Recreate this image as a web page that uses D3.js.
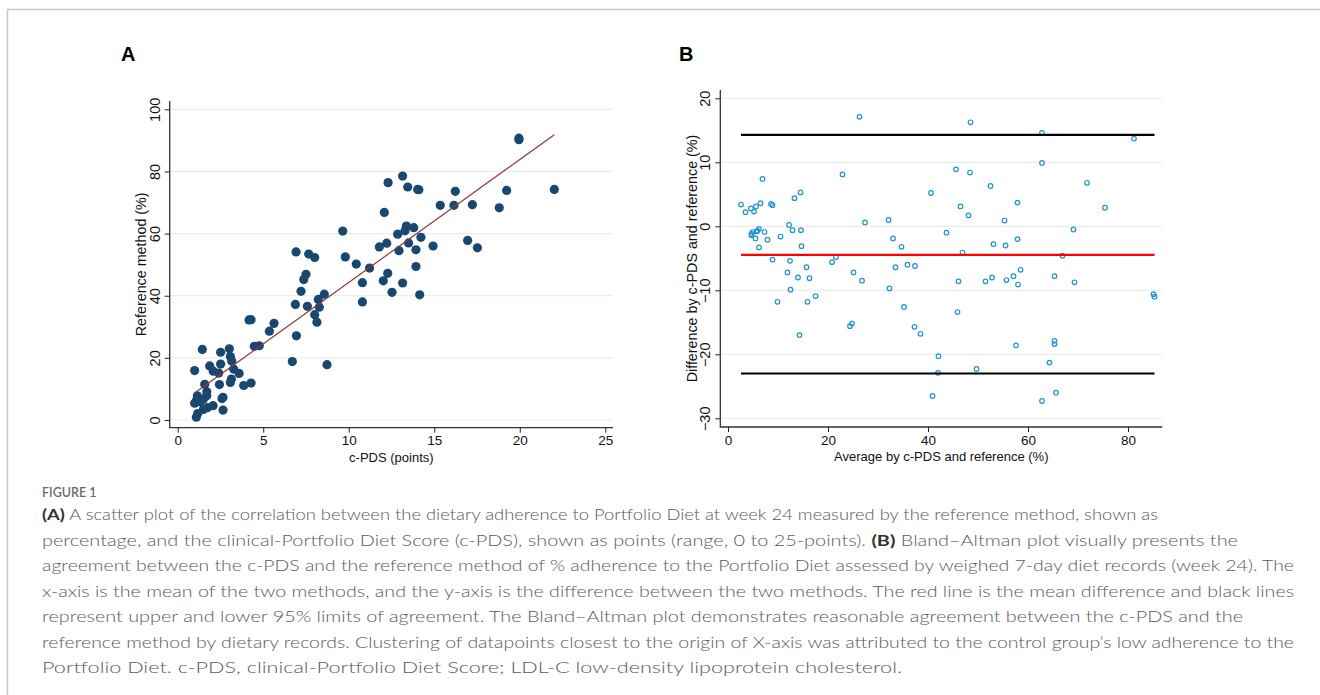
<!DOCTYPE html>
<html lang="en">
  <head>
    <meta charset="UTF-8" />
    <title>Figure 1 - c-PDS vs reference method</title>
    <script src="https://cdn.jsdelivr.net/npm/d3@7"></script>
    <style>
      body { margin: 0; background: #fff; }
      .tick text { font-family: "Liberation Sans", Arial, sans-serif; }
    </style>
  </head>
  <body>
    <svg id="fig" width="1320" height="695"></svg>
    <script>
      // Panel A: c-PDS (points) vs reference method (%)
      const cpds = [19.95, 19.95, 22.02, 19.23, 18.8, 17.23, 16.95, 17.52, 16.23, 16.15,
        15.35, 14.93, 13.15, 12.3, 13.45, 14.03, 14.1, 12.08, 13.37, 13.29,
        13.8, 12.86, 14.22, 12.22, 11.79, 13.5, 12.94, 13.93, 13.93, 12.28,
        12.02, 13.15, 12.53, 14.15, 11.22, 10.44, 10.8, 10.8, 9.65, 9.8,
        6.92, 7.66, 8.01, 7.5, 7.37, 7.21, 6.88, 7.58, 8.22, 8.57,
        8.28, 8.01, 8.14, 6.94, 6.7, 8.73, 5.63, 5.36, 4.17, 4.29,
        4.48, 4.77, 4.29, 3.86, 3.59, 3.27, 3.02, 3.08, 3.16, 3.14,
        3.08, 2.51, 2.51, 2.4, 2.44, 2.59, 2.65, 2.65, 1.87, 2.08,
        1.44, 1.58, 0.99, 1.7, 1.7, 1.15, 1.11, 0.99, 1.31, 1.5,
        2.07, 1.75, 1.5, 1.17, 1.09];
      const refPct = [90.7, 90.2, 74.2, 73.9, 68.3, 69.3, 57.8, 55.4, 73.6, 69.1,
        69.1, 56.0, 78.5, 76.4, 75.0, 74.2, 74.1, 66.8, 62.4, 60.9,
        61.9, 59.8, 58.8, 56.9, 55.7, 57.0, 54.5, 54.8, 49.4, 47.2,
        44.8, 44.1, 41.1, 40.3, 48.9, 50.2, 44.2, 38.0, 60.8, 52.5,
        54.1, 53.4, 52.3, 46.9, 45.2, 41.4, 37.2, 36.6, 38.8, 40.5,
        36.3, 33.9, 31.5, 27.1, 18.8, 17.8, 31.1, 28.6, 32.2, 32.3,
        23.7, 23.9, 11.9, 11.1, 15.0, 16.4, 22.9, 20.4, 19.0, 13.2,
        12.1, 21.8, 18.0, 15.1, 11.4, 6.9, 7.3, 3.2, 17.4, 15.7,
        22.7, 11.5, 15.9, 9.1, 7.8, 7.8, 6.4, 5.4, 5.9, 6.7,
        4.6, 4.0, 3.4, 2.1, 0.9];
      // fitted line end points
      const fitX = [1.05, 22.02];
      const fitY = [8.9, 91.8];
      const xTicksA = [0, 5, 10, 15, 20, 25];
      const yTicksA = [0, 20, 40, 60, 80, 100];

      // Panel B: Bland-Altman
      const baAvg = [26.3, 48.5, 62.8, 81.2, 62.8, 45.6, 48.4, 22.9, 6.9, 71.8,
        52.5, 40.6, 14.5, 13.3, 57.9, 6.5, 2.6, 8.6, 8.9, 46.5,
        5.6, 4.6, 75.4, 3.5, 5.2, 48.1, 55.3, 32.1, 27.4, 12.2,
        12.9, 14.6, 6.2, 5.9, 5.7, 7.3, 4.9, 4.7, 4.7, 69.1,
        43.7, 10.5, 5.5, 7.9, 33.0, 57.9, 53.1, 55.5, 34.7, 14.7,
        6.2, 46.9, 66.9, 21.6, 8.9, 12.4, 20.8, 35.9, 37.4, 33.5,
        15.7, 58.5, 11.9, 25.1, 57.1, 65.3, 52.8, 14.0, 16.3, 55.7,
        26.8, 46.1, 51.5, 69.3, 58.0, 32.3, 12.5, 85.1, 85.3, 17.5,
        9.9, 15.9, 35.2, 45.9, 24.8, 24.4, 37.3, 38.5, 14.3, 65.3,
        65.3, 57.6, 42.1, 64.3, 49.7, 42.0, 40.9, 65.6, 62.8];
      const baDiff = [17.1, 16.25, 14.6, 13.7, 9.9, 8.9, 8.4, 8.1, 7.4, 6.8,
        6.3, 5.2, 5.3, 4.4, 3.7, 3.6, 3.4, 3.5, 3.3, 3.1,
        3.1, 2.8, 2.9, 2.2, 2.3, 1.7, 0.9, 1.0, 0.6, 0.2,
        -0.6, -0.6, -0.4, -0.7, -0.8, -0.9, -0.9, -1.2, -1.4, -0.5,
        -1.0, -1.6, -1.9, -2.1, -1.9, -2.0, -2.8, -3.0, -3.2, -3.1,
        -3.3, -4.1, -4.6, -4.8, -5.2, -5.4, -5.6, -6.0, -6.2, -6.4,
        -6.4, -6.8, -7.2, -7.2, -7.8, -7.8, -8.0, -8.0, -8.1, -8.4,
        -8.5, -8.6, -8.6, -8.75, -9.1, -9.7, -9.9, -10.6, -11.0, -10.9,
        -11.8, -11.8, -12.6, -13.4, -15.2, -15.6, -15.7, -16.8, -17.0, -17.9,
        -18.4, -18.6, -20.3, -21.3, -22.3, -22.9, -26.5, -26.0, -27.3];
      const meanDiff = -4.48;
      const loaUpper = 14.27;
      const loaLower = -23.0;
      const baLineX = [2.6, 85.3];
      const xTicksB = [0, 20, 40, 60, 80];
      const yTicksB = [-30, -20, -10, 0, 10, 20];

      const captionLines = [
        [["(A)", true], [" A scatter plot of the correlation between the dietary adherence to Portfolio Diet at week 24 measured by the reference method, shown as", false]],
        [["percentage, and the clinical-Portfolio Diet Score (c-PDS), shown as points (range, 0 to 25-points). ", false], ["(B)", true], [" Bland\u2013Altman plot visually presents the", false]],
        [["agreement between the c-PDS and the reference method of % adherence to the Portfolio Diet assessed by weighed 7-day diet records (week 24). The", false]],
        [["x-axis is the mean of the two methods, and the y-axis is the difference between the two methods. The red line is the mean difference and black lines", false]],
        [["represent upper and lower 95% limits of agreement. The Bland\u2013Altman plot demonstrates reasonable agreement between the c-PDS and the", false]],
        [["reference method by dietary records. Clustering of datapoints closest to the origin of X-axis was attributed to the control group\u2019s low adherence to the", false]],
        [["Portfolio Diet. c-PDS, clinical-Portfolio Diet Score; LDL-C low-density lipoprotein cholesterol.", false]]
      ];
      const captionWidths = [1116, 1196, 1252, 1252, 1201, 1252, 860];

      const svg = d3.select("#fig");
      const chartFont = "'Liberation Sans', Arial, sans-serif";
      const gridColor = "#e6eff0";

      svg.append("rect").attr("width", 1320).attr("height", 695).attr("fill", "#fff");

      // thin frame around the figure
      svg.append("path")
        .attr("d", "M7.5,695 V9.5 H1320")
        .attr("fill", "none")
        .attr("stroke", "#c8c8c8")
        .attr("stroke-width", 1.5);

      // helper to draw a stata-like panel frame (axes + grid)
      function drawPanel(cfg) {
        const g = svg.append("g");
        const [x0, x1] = cfg.plotX;
        const [y0, y1] = cfg.plotY;

        // gridlines
        g.selectAll(".grid")
          .data(cfg.yTicks)
          .enter()
          .append("line")
          .attr("x1", x0)
          .attr("x2", x1)
          .attr("y1", (d) => cfg.y(d))
          .attr("y2", (d) => cfg.y(d))
          .attr("stroke", gridColor)
          .attr("stroke-width", 1.2);

        // y axis
        const yAxis = g.append("g")
          .attr("transform", `translate(${x0},0)`)
          .call(d3.axisLeft(cfg.y).tickValues(cfg.yTicks).tickSize(5).tickSizeOuter(0));
        yAxis.select(".domain").remove();
        yAxis.selectAll(".tick line").attr("stroke", "#222");
        yAxis.selectAll(".tick text")
          .attr("x", null)
          .attr("dy", null)
          .attr("transform", "translate(-10,0) rotate(-90)")
          .attr("text-anchor", "middle")
          .attr("font-size", 14.5)
          .attr("fill", "#111");

        // x axis
        const xAxis = g.append("g")
          .attr("transform", `translate(0,${y1})`)
          .call(d3.axisBottom(cfg.x).tickValues(cfg.xTicks).tickSize(5).tickSizeOuter(0));
        xAxis.select(".domain").remove();
        xAxis.selectAll(".tick line").attr("stroke", "#222");
        xAxis.selectAll(".tick text")
          .attr("y", 8)
          .attr("font-size", 13.5)
          .attr("fill", "#111");

        // axis lines
        g.append("path")
          .attr("d", `M${x0},${y0} V${y1} H${x1}`)
          .attr("fill", "none")
          .attr("stroke", "#333")
          .attr("stroke-width", 1.3);

        // titles
        g.append("text")
          .attr("x", (x0 + x1) / 2)
          .attr("y", y1 + 34)
          .attr("text-anchor", "middle")
          .attr("font-family", chartFont)
          .attr("font-size", 13)
          .attr("fill", "#111")
          .text(cfg.xTitle);
        g.append("text")
          .attr("transform", `translate(${cfg.yTitleX},${(y0 + y1) / 2}) rotate(-90)`)
          .attr("text-anchor", "middle")
          .attr("font-family", chartFont)
          .attr("font-size", 14.3)
          .attr("fill", "#111")
          .text(cfg.yTitle);

        // panel letter
        svg.append("text")
          .attr("x", cfg.letterX)
          .attr("y", 61)
          .attr("font-family", chartFont)
          .attr("font-weight", "bold")
          .attr("font-size", 20)
          .attr("fill", "#000")
          .text(cfg.letter);
        return g;
      }

      // ---- Panel A ----
      const xA = d3.scaleLinear().domain([0, 25]).range([177.7, 605.3]);
      const yA = d3.scaleLinear().domain([0, 100]).range([420, 109.3]);
      const gA = drawPanel({
        x: xA, y: yA, xTicks: xTicksA, yTicks: yTicksA,
        plotX: [169.7, 613], plotY: [101, 427.7],
        xTitle: "c-PDS (points)", yTitle: "Reference method (%)",
        yTitleX: 146, letter: "A", letterX: 121
      });

      gA.selectAll(".dotA")
        .data(d3.zip(cpds, refPct))
        .enter()
        .append("circle")
        .attr("class", "dotA")
        .attr("cx", (d) => xA(d[0]))
        .attr("cy", (d) => yA(d[1]))
        .attr("r", 4.6)
        .attr("fill", "#1a476f");

      gA.append("line")
        .attr("x1", xA(fitX[0]))
        .attr("y1", yA(fitY[0]))
        .attr("x2", xA(fitX[1]))
        .attr("y2", yA(fitY[1]))
        .attr("stroke", "#90353b")
        .attr("stroke-width", 1.2);

      // ---- Panel B ----
      const xB = d3.scaleLinear().domain([0, 80]).range([728, 1128]);
      const yB = d3.scaleLinear().domain([-30, 20]).range([418.3, 98.3]);
      const gB = drawPanel({
        x: xB, y: yB, xTicks: xTicksB, yTicks: yTicksB,
        plotX: [720.3, 1162.3], plotY: [90, 427],
        xTitle: "Average by c-PDS and reference (%)",
        yTitle: "Difference by c-PDS and reference (%)",
        yTitleX: 697, letter: "B", letterX: 679
      });

      gB.selectAll(".dotB")
        .data(d3.zip(baAvg, baDiff))
        .enter()
        .append("circle")
        .attr("class", "dotB")
        .attr("cx", (d) => xB(d[0]))
        .attr("cy", (d) => yB(d[1]))
        .attr("r", 2.3)
        .attr("fill", "none")
        .attr("stroke", "#1f95cc")
        .attr("stroke-width", 1.2);

      const refLines = [
        { v: loaUpper, c: "#000" },
        { v: meanDiff, c: "#ff0000" },
        { v: loaLower, c: "#000" }
      ];
      gB.selectAll(".refLine")
        .data(refLines)
        .enter()
        .append("line")
        .attr("x1", xB(baLineX[0]))
        .attr("x2", xB(baLineX[1]))
        .attr("y1", (d) => yB(d.v))
        .attr("y2", (d) => yB(d.v))
        .attr("stroke", (d) => d.c)
        .attr("stroke-width", 2.2);

      // ---- Caption ----
      const capFont = "Lato, 'Open Sans', sans-serif";
      svg.append("text")
        .attr("x", 42)
        .attr("y", 497)
        .attr("font-family", capFont)
        .attr("font-size", 12.5)
        .attr("font-weight", 600)
        .attr("fill", "#6b6b6b")
        .text("FIGURE 1");

      captionLines.forEach((parts, i) => {
        const t = svg.append("text")
          .attr("x", 42)
          .attr("y", 520 + i * 25.5)
          .attr("font-family", capFont)
          .attr("font-size", 15.5)
          .attr("font-weight", 300)
          .attr("fill", "#5a5a5a")
          .attr("textLength", captionWidths[i])
          .attr("lengthAdjust", "spacingAndGlyphs");
        parts.forEach(([s, b]) => {
          t.append("tspan")
            .attr("font-weight", b ? "bold" : null)
            .attr("fill", b ? "#333" : null)
            .text(s);
        });
      });
    </script>
  </body>
</html>
